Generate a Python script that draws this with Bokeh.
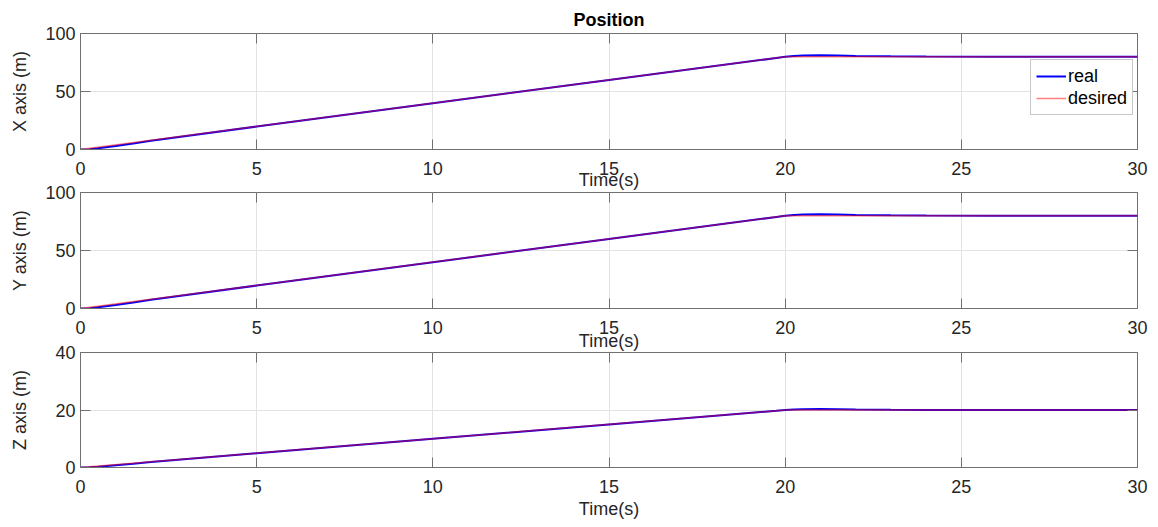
from bokeh.plotting import figure
from bokeh.layouts import column
from bokeh.models import Range1d, LinearAxis, FixedTicker, Legend, LegendItem
from bokeh.embed import file_html
from bokeh.resources import INLINE

# ---- data ----
time_real = [0, 0.25, 0.5, 1, 1.5, 2, 5, 10, 15, 19.75, 20, 20.25, 20.5, 21, 21.5, 22, 23, 24, 26, 30]
x_real = [0, 0.3, 1.0, 3.0, 5.2, 7.5, 19.8, 39.9, 59.9, 78.9, 79.9, 80.6, 81.0, 81.2, 81.0, 80.6, 80.3, 80.1, 80.0, 80.0]
y_real = [0, 0.3, 1.0, 3.0, 5.2, 7.5, 19.8, 39.9, 59.9, 78.9, 79.9, 80.6, 81.0, 81.2, 81.0, 80.6, 80.3, 80.1, 80.0, 80.0]
z_real = [0, 0.1, 0.3, 0.8, 1.3, 1.9, 4.95, 9.97, 14.97, 19.7, 19.98, 20.15, 20.3, 20.35, 20.3, 20.2, 20.08, 20.03, 20.0, 20.0]

time_desired = [0, 20, 30]
x_desired = [0, 80, 80]
y_desired = [0, 80, 80]
z_desired = [0, 20, 20]

time_ticks = [0, 5, 10, 15, 20, 25, 30]
xy_ticks = [0, 50, 100]
z_ticks = [0, 20, 40]

FONT = "Liberation Sans"
TXT = "#262626"
BOX = "#707070"
W = 1150


def panel(ylabel, real, desired, yticks, height, top, bottom, tick_sto, lab_sto, ylab_sto,
          title=None, legend=False, overlap=0):
    p = figure(width=W, height=height, x_range=Range1d(0, 30),
               y_range=Range1d(yticks[0], yticks[-1]),
               output_backend="svg", toolbar_location=None,
               min_border_left=80, min_border_right=13,
               min_border_top=top, min_border_bottom=bottom,
               background_fill_color="white",
               border_fill_color="white" if overlap == 0 else None,
               outline_line_color=BOX, outline_line_width=1)
    if overlap:
        p.margin = (-overlap, 0, 0, 0)
    if title:
        p.title.text = title
        p.title.text_font = FONT
        p.title.text_font_size = "18px"
        p.title.text_font_style = "bold"
        p.title.text_color = "black"
        p.title.align = "center"
        p.title.standoff = 7

    xa = p.xaxis[0]
    xa.ticker = FixedTicker(ticks=time_ticks)
    xa.axis_label = "Time(s)"
    xa.axis_label_text_font = FONT
    xa.axis_label_text_font_size = "18px"
    xa.axis_label_text_font_style = "normal"
    xa.axis_label_text_color = TXT
    xa.axis_label_standoff = lab_sto
    xa.major_label_standoff = tick_sto

    ya = p.yaxis[0]
    ya.ticker = FixedTicker(ticks=yticks)
    ya.axis_label = ylabel
    ya.axis_label_text_font = FONT
    ya.axis_label_text_font_size = "18px"
    ya.axis_label_text_font_style = "normal"
    ya.axis_label_text_color = TXT
    ya.axis_label_standoff = ylab_sto
    ya.major_label_standoff = 5

    for a in (xa, ya):
        a.major_label_text_font = FONT
        a.major_label_text_font_size = "18px"
        a.major_label_text_color = TXT
        a.axis_line_color = BOX
        a.major_tick_line_color = BOX
        a.major_tick_in = 10
        a.major_tick_out = 0
        a.minor_tick_line_color = None

    # ticks on the top and right side of the box (no labels drawn)
    top_ax = LinearAxis(ticker=FixedTicker(ticks=time_ticks), major_tick_in=10, major_tick_out=0,
                        major_tick_line_color=BOX, axis_line_color=None,
                        major_label_text_font_size="1px", major_label_text_color=None,
                        major_label_standoff=0, minor_tick_line_color=None)
    right_ax = LinearAxis(ticker=FixedTicker(ticks=yticks), major_tick_in=10, major_tick_out=0,
                          major_tick_line_color=BOX, axis_line_color=None,
                          major_label_text_font_size="1px", major_label_text_color=None,
                          major_label_standoff=0, minor_tick_line_color=None)
    p.add_layout(top_ax, "above")
    p.add_layout(right_ax, "right")

    p.xgrid.ticker = FixedTicker(ticks=time_ticks)
    p.ygrid.ticker = FixedTicker(ticks=yticks)
    p.grid.grid_line_color = "#e3e3e3"
    p.grid.grid_line_width = 1

    rb = p.line(time_real, real, line_color="#0000ff", line_width=2)
    rr = p.line(time_desired, desired, line_color="#ff0000", line_width=1.5, line_alpha=0.5)

    if legend:
        lg = Legend(items=[LegendItem(label="real", renderers=[rb]),
                           LegendItem(label="desired", renderers=[rr])],
                    location=(950, 34), margin=0, padding=5, spacing=0,
                    glyph_width=30, glyph_height=22, label_height=22,
                    label_standoff=2,
                    label_text_font=FONT, label_text_font_size="18px",
                    label_text_color="black",
                    border_line_color="#909090", border_line_width=1,
                    background_fill_color="white", background_fill_alpha=1)
        p.add_layout(lg)
    return p


p1 = panel("X axis (m)", x_real, x_desired, xy_ticks, 195, 33, 46, 12, -8, 12,
           title="Position", legend=True)
p2 = panel("Y axis (m)", y_real, y_desired, xy_ticks, 176, 12, 48, 12, -6, 12, overlap=15)
p3 = panel("Z axis (m)", z_real, z_desired, z_ticks, 185, 12, 58, 12, 3, 22, overlap=16)

layout = column(p1, p2, p3, spacing=0)

with open("out.html", "w") as f:
    f.write(file_html(layout, INLINE))
